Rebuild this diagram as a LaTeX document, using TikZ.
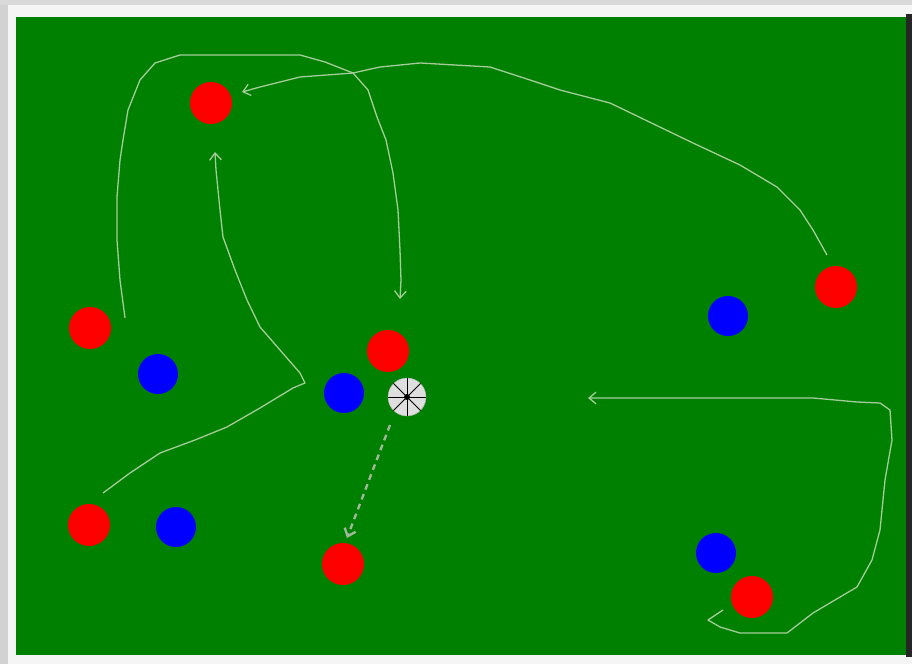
\documentclass[tikz,border=0pt]{standalone}
\usepackage{tikz}
\usetikzlibrary{positioning,arrows.meta}
\definecolor{pitch}{RGB}{0,128,0}
\definecolor{trail}{RGB}{165,205,155}
\definecolor{dashtrail}{RGB}{160,185,155}
\tikzset{red node/.style={circle,fill=red,minimum size=1.26cm,inner
sep=0pt}}
\tikzset{blue node/.style={circle,fill=blue,minimum size=1.2cm,inner
sep=0pt}}
\tikzset{ball node/.style={circle,draw=gray!60,fill=gray!25,minimum size=1.14cm,inner
sep=0pt}}
\tikzset{run/.style={draw=trail,line width=1.1pt,-{Straight Barb[length=6pt,width=10pt]},line join=round}}

\begin{document}
\begin{tikzpicture}[x=0.03cm,y=-0.03cm]
\useasboundingbox (0,0) rectangle (912,664);

% frame and pitch
\fill[gray!8] (0,0) rectangle (912,664);
\fill[gray!35] (0,0) rectangle (8,664);
\fill[gray!30] (0,0) rectangle (912,5);
\fill[pitch] (16,17) rectangle (906,655);
\fill[black!85] (906,14) rectangle (912,657);

% red players
\foreach \n/\x/\y in {1/211/103,2/90/328,3/388/351,4/836/287,5/89/525,6/343/564,7/752/597}{
    \node[red node] (r\n) at (\x,\y){ };
}

% blue players
\foreach \n/\x/\y in {1/158/374,2/344/393,3/728/316,4/176/527,5/716/553}{
    \node[blue node] (b\n) at (\x,\y){ };
}

% ball
\node[ball node] (ball) at (407,397){ };
\foreach \a/\b in {0/180,45/225,90/270,135/315}{
    \draw[black,line width=0.8pt] (ball.\a)--(ball.\b);
}
\fill[black] (ball.center) circle (3);

% ends of the runs
\coordinate (s1) at (125,318);
\coordinate (e1) at (400,299);
\coordinate (s2) at (827,255);
\coordinate (e2) at (242,92);
\coordinate (s3) at (103,493);
\coordinate (e3) at (215,152);
\coordinate (s4) at (723,610);
\coordinate (e4) at (588,398);
\coordinate (s5) at (390,425);
\coordinate (e5) at (347,538);

\draw[run] (s1) --(120,280)--(117,240)--(117,197)--(120,160)--(123,140)--(128,110)
    --(140,80)--(155,63)--(180,55)--(300,55)--(325,62)--(353,73)--(368,90)
    --(377,117)--(386,140)--(393,173)--(398,210)--(400,250)--(401,280)--(e1);

\draw[run] (s2) --(813,230)--(800,210)--(777,187)--(740,165)--(693,143)--(610,103)
    --(560,90)--(530,80)--(490,67)--(420,63)--(380,67)--(353,73)--(300,77)
    --(260,87)--(e2);

\draw[run] (s3) --(130,473)--(160,453)--(195,440)--(227,427)--(260,408)--(293,388)
    --(305,383)--(300,373)--(280,350)--(260,327)--(247,300)--(235,270)
    --(223,237)--(220,210)--(218,190)--(216,170)--(e3);

\draw[run] (s4) --(708,620)--(720,627)--(740,633)--(787,633)--(813,613)--(835,600)
    --(857,587)--(872,560)--(880,530)--(885,480)--(892,440)--(890,410)
    --(880,403)--(857,402)--(813,398)--(680,398)--(e4);

% pass
\draw[run,draw=dashtrail,line width=2pt,dash pattern=on 5pt off 4pt] (s5)--(e5);

\end{tikzpicture}
\end{document}
